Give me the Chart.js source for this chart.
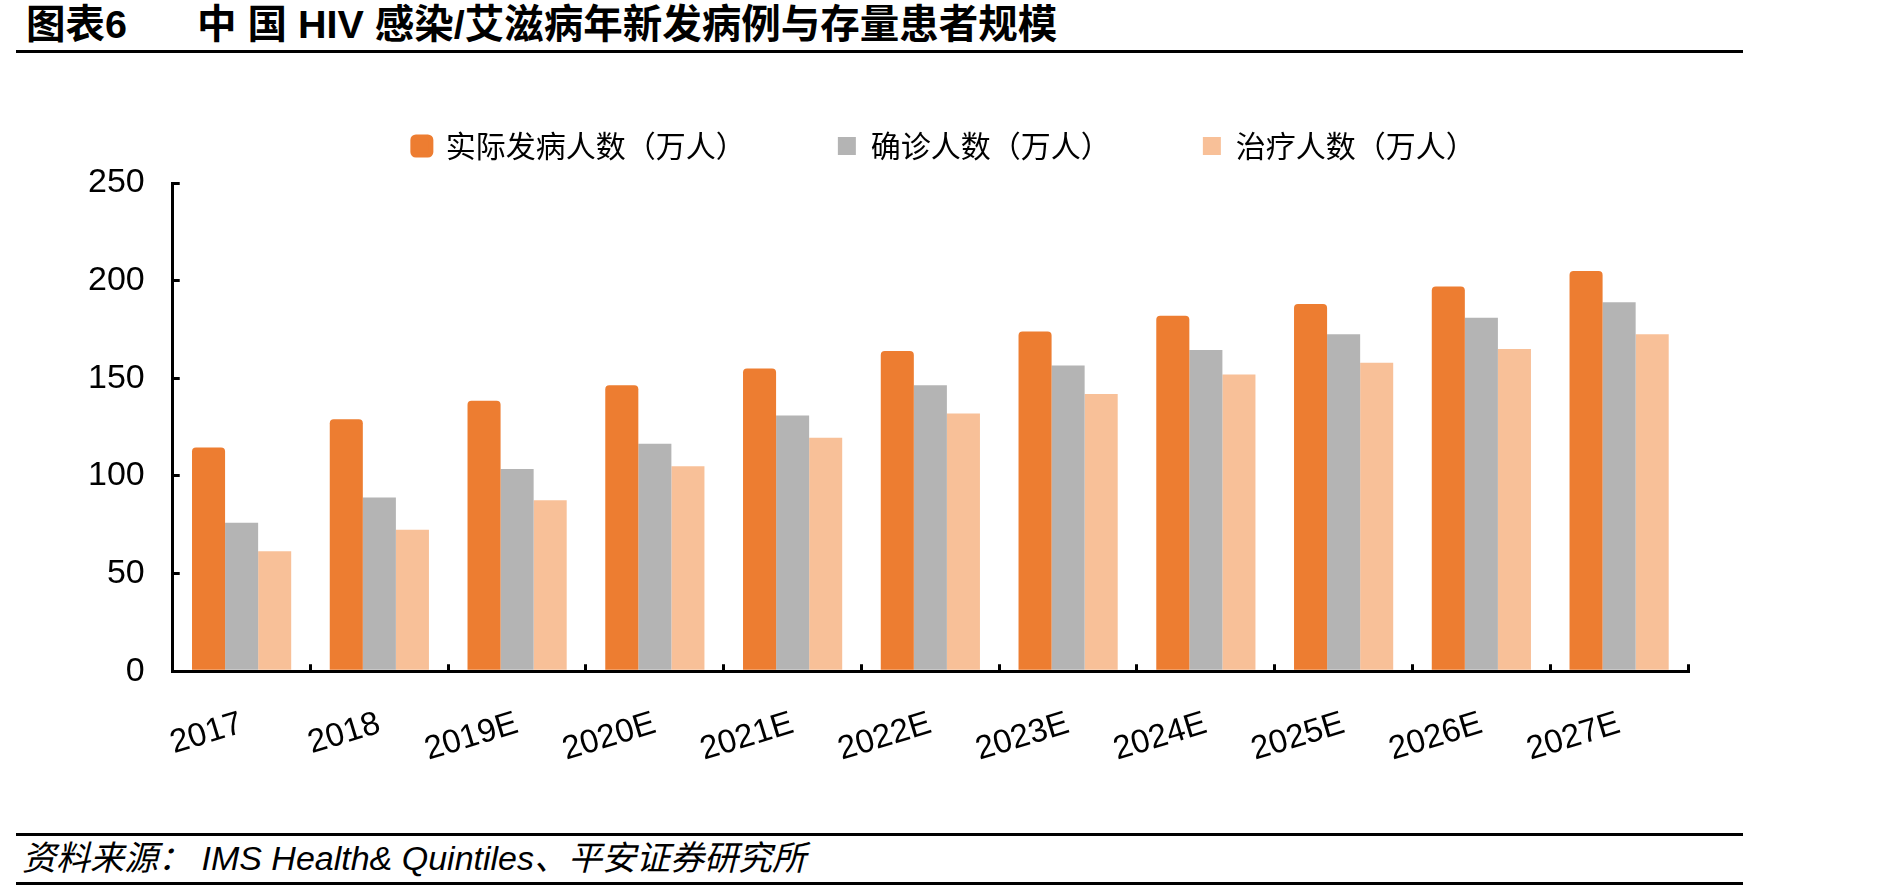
<!DOCTYPE html>
<html lang="zh">
<head>
<meta charset="UTF-8">
<script src="https://cdn.jsdelivr.net/npm/chart.js@4"></script>
<style>
    body {
        margin: 0;
        width: 1889px;
        height: 890px;
        position: relative;
        overflow: hidden;
        background: #fff;
        color: #000;
        font-family: "Liberation Sans", "Noto Sans CJK SC", sans-serif;
    }
    .title {
        position: absolute;
        top: 2px;
        font-size: 39.5px;
        font-weight: bold;
        line-height: 44px;
        white-space: pre;
    }
    .rule {
        position: absolute;
        left: 16px;
        width: 1727px;
        height: 3px;
        background: #000;
    }
    .source {
        position: absolute;
        left: 22px;
        top: 838px;
        font-size: 34px;
        font-style: italic;
        line-height: 40px;
        white-space: pre;
    }
    .chartBox {
        position: absolute;
        left: 0;
        top: 0;
        width: 1874px;
        height: 830px;
    }
</style>
<title>中国 HIV 感染/艾滋病年新发病例与存量患者规模</title>
</head>
<body>
    <div class="title" style="left:26px">图表6</div>
    <div class="title" style="left:197px">中 国 HIV 感染/艾滋病年新发病例与存量患者规模</div>
    <div class="rule" style="top:50px"></div>

    <div class="chartBox"><canvas id="hivChart"></canvas></div>

    <div class="rule" style="top:833px"></div>
    <div class="source">资料来源： IMS Health&amp; Quintiles、平安证券研究所</div>
    <div class="rule" style="top:882px"></div>

<script>
    // values (万人)
    const years = ['2017', '2018', '2019E', '2020E', '2021E', '2022E', '2023E', '2024E', '2025E', '2026E', '2027E'];
    const newCases = [114.5, 129, 138.5, 146.5, 155, 164, 174, 182, 188, 197, 205];
    const diagnosed = [76, 89, 103.5, 116.5, 131, 146.5, 156.5, 164.5, 172.5, 181, 189];
    const treated = [61.5, 72.5, 87.5, 105, 119.5, 132, 142, 152, 158, 165, 172.5];
    const seriesNames = ['实际发病人数（万人）', '确诊人数（万人）', '治疗人数（万人）'];
    const yMin = 0, yMax = 250, yStep = 50;

    const colors = ['#ED7D31', '#B4B4B4', '#F8C098'];

    Chart.defaults.font.family = '"Liberation Sans", "Noto Sans CJK SC", sans-serif';
    Chart.defaults.color = '#000';

    // a bit more room under the legend, and nudge it right to sit like the original
    const legendTweak = {
        id: 'legendTweak',
        beforeInit(chart) {
            const origFit = chart.legend.fit;
            chart.legend.fit = function () {
                origFit.bind(chart.legend)();
                this.height += 12;
            };
        },
        afterLayout(chart) {
            chart.legend.left += 14;
            chart.legend.right += 14;
        }
    };

    const ctx = document.getElementById('hivChart').getContext('2d');
    const myChart = new Chart(ctx, {
        type: 'bar',
        data: {
            labels: years,
            datasets: [
                {
                    label: seriesNames[0],
                    data: newCases,
                    backgroundColor: colors[0],
                    borderRadius: { topLeft: 4, topRight: 4 },
                    borderSkipped: 'start'
                },
                {
                    label: seriesNames[1],
                    data: diagnosed,
                    backgroundColor: colors[1]
                },
                {
                    label: seriesNames[2],
                    data: treated,
                    backgroundColor: colors[2]
                }
            ]
        },
        options: {
            responsive: true,
            maintainAspectRatio: false,
            animation: false,
            categoryPercentage: 0.72,
            barPercentage: 1.0,
            layout: {
                padding: { top: 39, left: 53, right: 186, bottom: 20 }
            },
            plugins: {
                tooltip: { enabled: false },
                legend: {
                    position: 'top',
                    fullSize: false,
                    labels: {
                        font: { size: 30, family: '"Noto Sans CJK SC", sans-serif' },
                        color: '#000',
                        boxWidth: 18,
                        boxHeight: 18,
                        padding: 92,
                        generateLabels(chart) {
                            const items = Chart.defaults.plugins.legend.labels.generateLabels(chart);
                            items.forEach((it, i) => {
                                it.strokeStyle = it.fillStyle;
                                it.lineWidth = i === 0 ? 5 : 0;
                                it.borderRadius = i === 0 ? 3 : 0;
                            });
                            return items;
                        }
                    }
                }
            },
            scales: {
                x: {
                    border: { display: true, color: '#000', width: 3 },
                    grid: {
                        display: true,
                        offset: true,
                        drawOnChartArea: false,
                        drawTicks: true,
                        tickLength: -7,
                        color: '#000',
                        lineWidth: 3
                    },
                    ticks: {
                        font: { size: 33 },
                        color: '#000',
                        minRotation: 17,
                        maxRotation: 17,
                        autoSkip: false,
                        padding: 40
                    }
                },
                y: {
                    min: yMin,
                    max: yMax,
                    border: { display: true, color: '#000', width: 3 },
                    grid: {
                        display: true,
                        drawOnChartArea: false,
                        drawTicks: true,
                        tickLength: -7,
                        color: '#000',
                        lineWidth: 3
                    },
                    ticks: {
                        stepSize: yStep,
                        font: { size: 34 },
                        color: '#000',
                        padding: 35
                    }
                }
            }
        },
        plugins: [legendTweak]
    });
</script>
</body>
</html>
